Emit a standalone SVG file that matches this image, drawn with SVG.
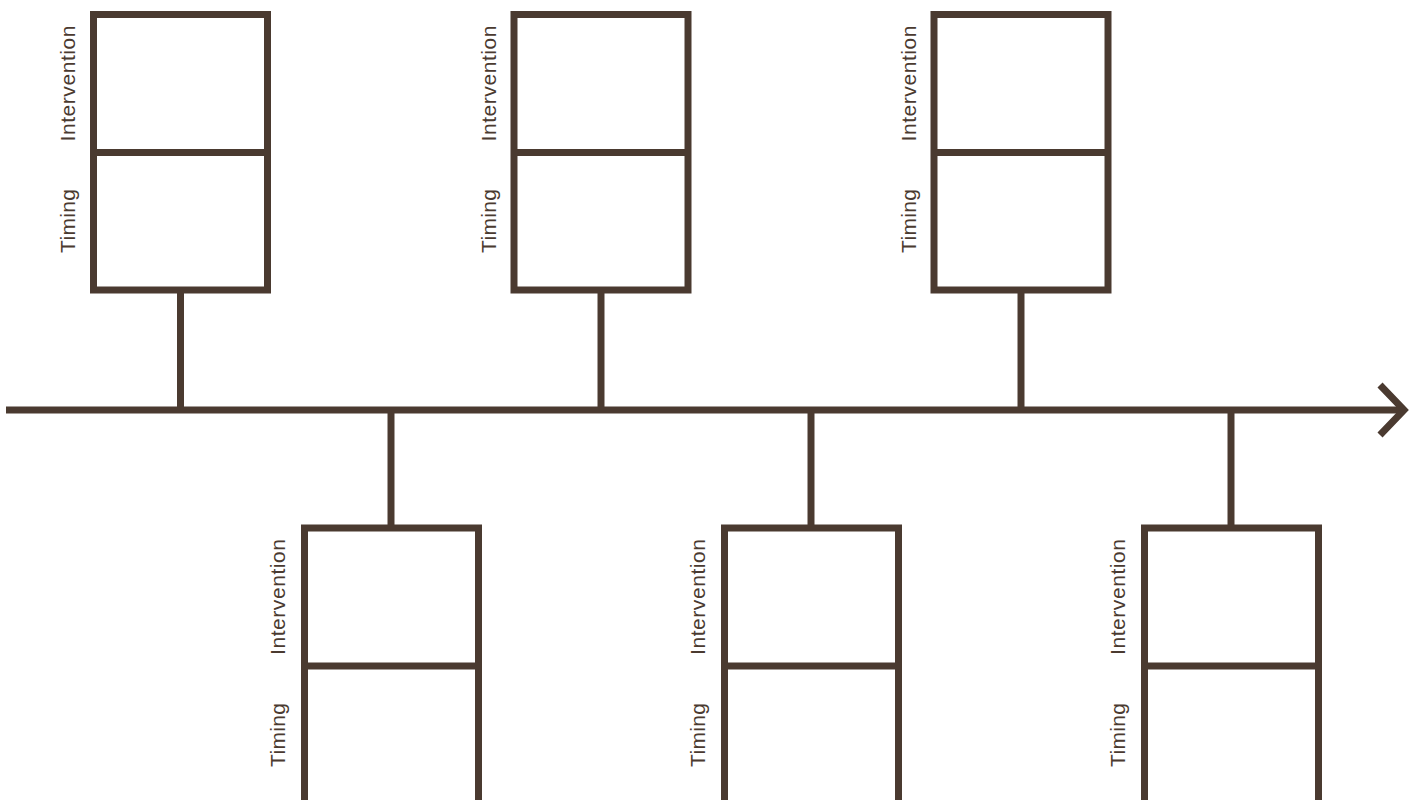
<svg xmlns="http://www.w3.org/2000/svg" width="1414" height="800" viewBox="0 0 1414 800">
<style>
.box{fill:#ffffff;stroke:#4a3a30;stroke-width:7}
.ln{fill:none;stroke:#4a3a30;stroke-width:7}
.lbl{font-family:"Liberation Sans",Arial,sans-serif;font-size:21px;fill:#4a3a30;text-anchor:middle}
</style>
<rect width="1414" height="800" fill="#ffffff"/>
<g id="connectors">
<line class="ln" x1="6" y1="410" x2="1403" y2="410"/>
<polyline class="ln" points="1380,385 1404,410 1380,435"/>
<line class="ln" x1="180.5" y1="290" x2="180.5" y2="410"/>
<line class="ln" x1="601" y1="290" x2="601" y2="410"/>
<line class="ln" x1="1021" y1="290" x2="1021" y2="410"/>
<line class="ln" x1="391" y1="410" x2="391" y2="528"/>
<line class="ln" x1="811" y1="410" x2="811" y2="528"/>
<line class="ln" x1="1231" y1="410" x2="1231" y2="528"/>
</g>
<g id="node1">
<rect class="box" x="93.5" y="14.5" width="174" height="275.5"/>
<line class="ln" x1="93.5" y1="152.5" x2="267.5" y2="152.5"/>
<text class="lbl" textLength="116" transform="translate(75,83.5) rotate(-90)">Intervention</text>
<text class="lbl" textLength="64" transform="translate(75,221) rotate(-90)">Timing</text>
</g>
<g id="node2">
<rect class="box" x="514" y="14.5" width="174" height="275.5"/>
<line class="ln" x1="514" y1="152.5" x2="688" y2="152.5"/>
<text class="lbl" textLength="116" transform="translate(495.5,83.5) rotate(-90)">Intervention</text>
<text class="lbl" textLength="64" transform="translate(495.5,221) rotate(-90)">Timing</text>
</g>
<g id="node3">
<rect class="box" x="934" y="14.5" width="174" height="275.5"/>
<line class="ln" x1="934" y1="152.5" x2="1108" y2="152.5"/>
<text class="lbl" textLength="116" transform="translate(915.5,83.5) rotate(-90)">Intervention</text>
<text class="lbl" textLength="64" transform="translate(915.5,221) rotate(-90)">Timing</text>
</g>
<g id="node4">
<rect class="box" x="304.5" y="528" width="174" height="276"/>
<line class="ln" x1="304.5" y1="666" x2="478.5" y2="666"/>
<text class="lbl" textLength="116" transform="translate(285,597) rotate(-90)">Intervention</text>
<text class="lbl" textLength="64" transform="translate(285,735) rotate(-90)">Timing</text>
</g>
<g id="node5">
<rect class="box" x="724.5" y="528" width="174" height="276"/>
<line class="ln" x1="724.5" y1="666" x2="898.5" y2="666"/>
<text class="lbl" textLength="116" transform="translate(705,597) rotate(-90)">Intervention</text>
<text class="lbl" textLength="64" transform="translate(705,735) rotate(-90)">Timing</text>
</g>
<g id="node6">
<rect class="box" x="1144.5" y="528" width="174" height="276"/>
<line class="ln" x1="1144.5" y1="666" x2="1318.5" y2="666"/>
<text class="lbl" textLength="116" transform="translate(1125,597) rotate(-90)">Intervention</text>
<text class="lbl" textLength="64" transform="translate(1125,735) rotate(-90)">Timing</text>
</g>
</svg>
